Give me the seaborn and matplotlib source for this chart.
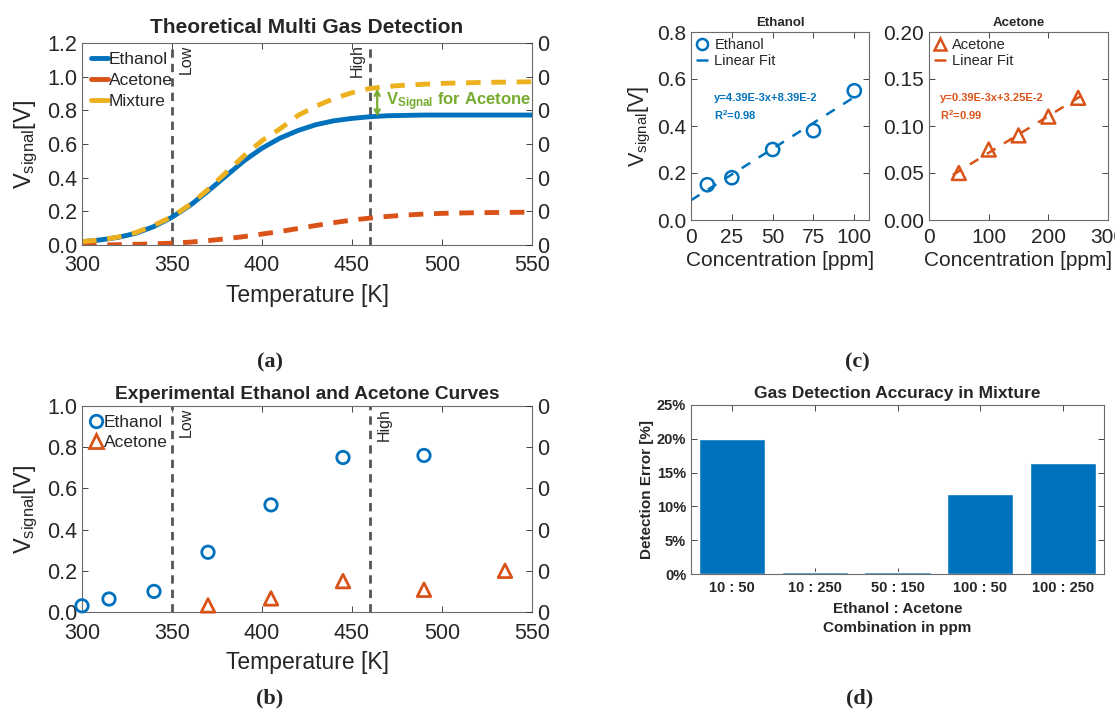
import matplotlib
matplotlib.use("Agg")
import matplotlib.pyplot as plt
from matplotlib.lines import Line2D
import seaborn as sns

BLUE   = "#0072BD"
ORANGE = "#D95319"
YELLOW = "#EDB120"
GREEN  = "#77AC30"
GRAY   = "#555555"
INK    = "#262626"

# ── (a) theoretical curves ───────────────────────────────────────────────────
temp_theory = [300, 310, 320, 330, 340, 350, 360, 370, 380, 390, 400, 410, 420,
               430, 440, 450, 460, 470, 480, 490, 500, 510, 520, 530, 540, 550]
v_ethanol_theory = [0.02, 0.03, 0.045, 0.07, 0.11, 0.165, 0.235, 0.32, 0.41, 0.50,
                    0.575, 0.635, 0.68, 0.715, 0.738, 0.752, 0.762, 0.768, 0.77,
                    0.772, 0.772, 0.772, 0.772, 0.772, 0.772, 0.772]
v_acetone_theory = [0.0, 0.0, 0.002, 0.004, 0.007, 0.011, 0.017, 0.026, 0.037, 0.05,
                    0.065, 0.08, 0.098, 0.116, 0.133, 0.148, 0.16, 0.17, 0.178, 0.184,
                    0.188, 0.19, 0.192, 0.193, 0.194, 0.195]
v_mixture_theory = [0.02, 0.03, 0.047, 0.074, 0.117, 0.168, 0.24, 0.33, 0.43, 0.53,
                    0.62, 0.69, 0.77, 0.825, 0.87, 0.905, 0.93, 0.942, 0.95, 0.955,
                    0.96, 0.963, 0.965, 0.967, 0.968, 0.97]
T_LOW, T_HIGH = 350, 460

# ── (b) experimental points ──────────────────────────────────────────────────
temp_eth_exp = [300, 315, 340, 370, 405, 445, 490]
v_eth_exp    = [0.03, 0.063, 0.10, 0.29, 0.52, 0.75, 0.76]
temp_ace_exp = [370, 405, 445, 490, 535]
v_ace_exp    = [0.032, 0.066, 0.15, 0.108, 0.20]

# ── (c) concentration sweeps ─────────────────────────────────────────────────
conc_eth   = [10, 25, 50, 75, 100]
v_eth_conc = [0.15, 0.18, 0.30, 0.38, 0.55]
eth_fit_x  = [0, 100]
eth_fit_y  = [0.084, 0.523]
conc_ace   = [50, 100, 150, 200, 250]
v_ace_conc = [0.05, 0.075, 0.09, 0.11, 0.13]
ace_fit_x  = [40, 260]
ace_fit_y  = [0.048, 0.134]

# ── (d) detection error ──────────────────────────────────────────────────────
combos    = ["10 : 50", "10 : 250", "50 : 150", "100 : 50", "100 : 250"]
det_error = [20.0, 0.35, 0.35, 11.8, 16.4]

sns.set_theme(style="ticks")
plt.rcParams["font.family"] = ["Liberation Sans", "DejaVu Sans"]
plt.rcParams["mathtext.fontset"] = "custom"
plt.rcParams["mathtext.rm"] = "Liberation Sans"
plt.rcParams["mathtext.bf"] = "Liberation Sans:bold"
plt.rcParams["mathtext.it"] = "Liberation Sans:italic"

W, H = 1115, 709
fig = plt.figure(figsize=(W / 100, H / 100), dpi=100)


def box(px_l, px_t, px_r, px_b):
    return [px_l / W, 1 - px_b / H, (px_r - px_l) / W, (px_b - px_t) / H]


def style_box(ax, size=15.5, xpad=7):
    ax.tick_params(direction="in", top=True, right=True, length=4, width=0.6,
                   labelsize=size, colors=INK)
    ax.tick_params(axis="x", pad=xpad)
    ax.tick_params(axis="y", pad=3.5)
    for s in ax.spines.values():
        s.set_visible(True)
        s.set_color("#6b6b6b")
        s.set_linewidth(0.8)


def right_zero_axis(ax, ticks):
    tw = ax.twinx()
    tw.set_ylim(ax.get_ylim())
    tw.set_yticks(ticks)
    tw.set_yticklabels(["0"] * len(ticks))
    tw.tick_params(direction="in", length=4, width=0.6, labelsize=15.5, colors=INK,
                   pad=4)
    for s in tw.spines.values():
        s.set_visible(False)


def low_high(ax, high_side):
    for t in (T_LOW, T_HIGH):
        ax.axvline(t, color=GRAY, lw=2, linestyle=(0, (3, 2.2)), zorder=1)
    ytop = ax.get_ylim()[1]
    ax.text(T_LOW + 3.5, ytop * 0.99, "Low", rotation=90, va="top", ha="left",
            fontsize=11.5, color=INK)
    if high_side == "left":
        ax.text(T_HIGH - 3, ytop * 0.995, "High", rotation=90, va="top", ha="right",
                fontsize=11.5, color=INK)
    else:
        ax.text(T_HIGH + 3.5, ytop * 0.99, "High", rotation=90, va="top", ha="left",
                fontsize=11.5, color=INK)


# ── (a) ──────────────────────────────────────────────────────────────────────
ax_a = fig.add_axes(box(82, 43, 532, 245))
sns.lineplot(x=temp_theory, y=v_ethanol_theory, ax=ax_a, color=BLUE, lw=3.5)
sns.lineplot(x=temp_theory, y=v_acetone_theory, ax=ax_a, color=ORANGE, lw=3.5,
             linestyle=(0, (3, 2.2)))
sns.lineplot(x=temp_theory, y=v_mixture_theory, ax=ax_a, color=YELLOW, lw=3.5,
             linestyle=(0, (3, 2.2)))
ax_a.set_xlim(300, 550)
ax_a.set_ylim(0, 1.2)
ax_a.set_yticks([0, 0.2, 0.4, 0.6, 0.8, 1.0, 1.2])
ax_a.set_yticklabels([f"{v:.1f}" for v in [0, 0.2, 0.4, 0.6, 0.8, 1.0, 1.2]])
style_box(ax_a)
low_high(ax_a, "left")
ax_a.annotate("", xy=(464, v_mixture_theory[16]), xytext=(464, v_ethanol_theory[16]),
              arrowprops=dict(arrowstyle="<->", color=GREEN, lw=1.6,
                              shrinkA=0, shrinkB=0, mutation_scale=9))
ax_a.text(469, 0.83, r"$\mathbf{V_{Signal}}$ for Acetone", color=GREEN,
          fontsize=12, fontweight="bold", va="baseline", ha="left")
ax_a.set_xlabel("Temperature [K]", fontsize=16.5, color=INK, labelpad=6)
ax_a.set_ylabel(r"V$_{\mathrm{signal}}$[V]", fontsize=17, color=INK, labelpad=5)
ax_a.set_title("Theoretical Multi Gas Detection", fontsize=15, fontweight="bold",
               pad=7)
handles_a = [Line2D([], [], color=BLUE, lw=3.5),
             Line2D([], [], color=ORANGE, lw=3.5),
             Line2D([], [], color=YELLOW, lw=3.5)]
ax_a.legend(handles_a, ["Ethanol", "Acetone", "Mixture"], loc="upper left",
            frameon=False, fontsize=12.5, handlelength=1.0, handletextpad=0.05,
            borderaxespad=0.15, borderpad=0.35, labelspacing=0.35)
right_zero_axis(ax_a, [0, 0.2, 0.4, 0.6, 0.8, 1.0, 1.2])

# ── (b) ──────────────────────────────────────────────────────────────────────
ax_b = fig.add_axes(box(82, 406, 532, 612))
sns.scatterplot(x=temp_eth_exp, y=v_eth_exp, ax=ax_b, marker="o", s=80,
                facecolor="none", edgecolor=BLUE, linewidth=2, zorder=3,
                clip_on=False)
sns.scatterplot(x=temp_ace_exp, y=v_ace_exp, ax=ax_b, marker="^", s=95,
                facecolor="none", edgecolor=ORANGE, linewidth=2, zorder=3,
                clip_on=False)
ax_b.set_xlim(300, 550)
ax_b.set_ylim(0, 1.0)
ax_b.set_yticks([0, 0.2, 0.4, 0.6, 0.8, 1.0])
ax_b.set_yticklabels([f"{v:.1f}" for v in [0, 0.2, 0.4, 0.6, 0.8, 1.0]])
style_box(ax_b, xpad=8)
low_high(ax_b, "right")
ax_b.set_xlabel("Temperature [K]", fontsize=16.5, color=INK, labelpad=5)
ax_b.set_ylabel(r"V$_{\mathrm{signal}}$[V]", fontsize=17, color=INK, labelpad=5)
ax_b.set_title("Experimental Ethanol and Acetone Curves", fontsize=13.8,
               fontweight="bold", pad=5)
handles_b = [Line2D([], [], color=BLUE, marker="o", ls="", mfc="none", mew=2, ms=9),
             Line2D([], [], color=ORANGE, marker="^", ls="", mfc="none", mew=2, ms=9.5)]
ax_b.legend(handles_b, ["Ethanol", "Acetone"], loc="upper left", frameon=False,
            fontsize=12.5, handlelength=0.6, handletextpad=0.15, borderaxespad=0.15,
            borderpad=0.35, labelspacing=0.3)
right_zero_axis(ax_b, [0, 0.2, 0.4, 0.6, 0.8, 1.0])

# ── (c) ethanol ──────────────────────────────────────────────────────────────
ax_ce = fig.add_axes(box(691, 32, 869, 220))
sns.lineplot(x=eth_fit_x, y=eth_fit_y, ax=ax_ce, color=BLUE, lw=1.8,
             linestyle=(0, (4, 4)))
sns.scatterplot(x=conc_eth, y=v_eth_conc, ax=ax_ce, marker="o", s=90,
                facecolor="none", edgecolor=BLUE, linewidth=1.8, zorder=3)
ax_ce.set_xlim(0, 109)
ax_ce.set_ylim(0, 0.8)
ax_ce.set_xticks([0, 25, 50, 75, 100])
ax_ce.set_yticks([0, 0.2, 0.4, 0.6, 0.8])
ax_ce.set_yticklabels([f"{v:.1f}" for v in [0, 0.2, 0.4, 0.6, 0.8]])
style_box(ax_ce, size=15, xpad=6)
ax_ce.set_title("Ethanol", fontsize=9.5, fontweight="bold", pad=4)
ax_ce.set_xlabel("Concentration [ppm]", fontsize=15, color=INK, labelpad=3)
ax_ce.set_ylabel(r"V$_{\mathrm{signal}}$[V]", fontsize=15.5, color=INK, labelpad=3)
ax_ce.text(14, 0.519, "y=4.39E-3x+8.39E-2", color=BLUE, fontsize=8,
           fontweight="bold", va="center")
ax_ce.text(14, 0.447, r"R$^{\mathbf{2}}$=0.98", color=BLUE, fontsize=8,
           fontweight="bold", va="center")
handles_ce = [Line2D([], [], color=BLUE, marker="o", ls="", mfc="none", mew=1.8, ms=8),
              Line2D([], [], color=BLUE, lw=1.8)]
ax_ce.legend(handles_ce, ["Ethanol", "Linear Fit"], loc="upper left", frameon=False,
             fontsize=10.5, handlelength=0.7, handletextpad=0.5, borderaxespad=0.1,
             borderpad=0.3, labelspacing=0.15)

# ── (c) acetone ──────────────────────────────────────────────────────────────
ax_ca = fig.add_axes(box(929, 32, 1108, 220))
sns.lineplot(x=ace_fit_x, y=ace_fit_y, ax=ax_ca, color=ORANGE, lw=1.8,
             linestyle=(0, (4, 4)))
sns.scatterplot(x=conc_ace, y=v_ace_conc, ax=ax_ca, marker="^", s=100,
                facecolor="none", edgecolor=ORANGE, linewidth=1.8, zorder=3)
ax_ca.set_xlim(0, 300)
ax_ca.set_ylim(0, 0.2)
ax_ca.set_xticks([0, 100, 200, 300])
ax_ca.set_yticks([0, 0.05, 0.10, 0.15, 0.20])
ax_ca.set_yticklabels([f"{v:.2f}" for v in [0, 0.05, 0.10, 0.15, 0.20]])
style_box(ax_ca, size=15, xpad=6)
ax_ca.set_title("Acetone", fontsize=9.5, fontweight="bold", pad=4)
ax_ca.set_xlabel("Concentration [ppm]", fontsize=15, color=INK, labelpad=3)
ax_ca.text(19, 0.13, "y=0.39E-3x+3.25E-2", color=ORANGE, fontsize=8,
           fontweight="bold", va="center")
ax_ca.text(19, 0.112, r"R$^{\mathbf{2}}$=0.99", color=ORANGE, fontsize=8,
           fontweight="bold", va="center")
handles_ca = [Line2D([], [], color=ORANGE, marker="^", ls="", mfc="none", mew=1.8, ms=9),
              Line2D([], [], color=ORANGE, lw=1.8)]
ax_ca.legend(handles_ca, ["Acetone", "Linear Fit"], loc="upper left", frameon=False,
             fontsize=10.5, handlelength=0.7, handletextpad=0.5, borderaxespad=0.1,
             borderpad=0.3, labelspacing=0.15)

# ── (d) ──────────────────────────────────────────────────────────────────────
ax_d = fig.add_axes(box(691, 405, 1104, 574))
sns.barplot(x=combos, y=det_error, ax=ax_d, color=BLUE, saturation=1, width=0.8)
ax_d.set_xlim(-0.5, 4.5)
ax_d.set_ylim(0, 25)
ax_d.set_yticks([0, 5, 10, 15, 20, 25])
ax_d.set_yticklabels([f"{v}%" for v in [0, 5, 10, 15, 20, 25]])
style_box(ax_d, size=10.5, xpad=5)
for lab in ax_d.get_xticklabels() + ax_d.get_yticklabels():
    lab.set_fontweight("bold")
ax_d.set_title("Gas Detection Accuracy in Mixture", fontsize=12.5, fontweight="bold",
               pad=5)
ax_d.set_xlabel("Ethanol : Acetone\nCombination in ppm", fontsize=11,
                fontweight="bold", color=INK, labelpad=5, linespacing=1.45)
ax_d.set_ylabel("Detection Error [%]", fontsize=11, fontweight="bold", color=INK,
                labelpad=2)

# ── panel letters ────────────────────────────────────────────────────────────
for x, y, letter in [(270, 362, "a"), (270, 698, "b"), (857, 362, "c"), (860, 698, "d")]:
    fig.text(x / W, 1 - y / H, f"({letter})", ha="center", va="center",
             fontsize=16, family=["Liberation Serif", "DejaVu Serif"],
             fontweight="bold")

fig.savefig("out.png", dpi=100)
